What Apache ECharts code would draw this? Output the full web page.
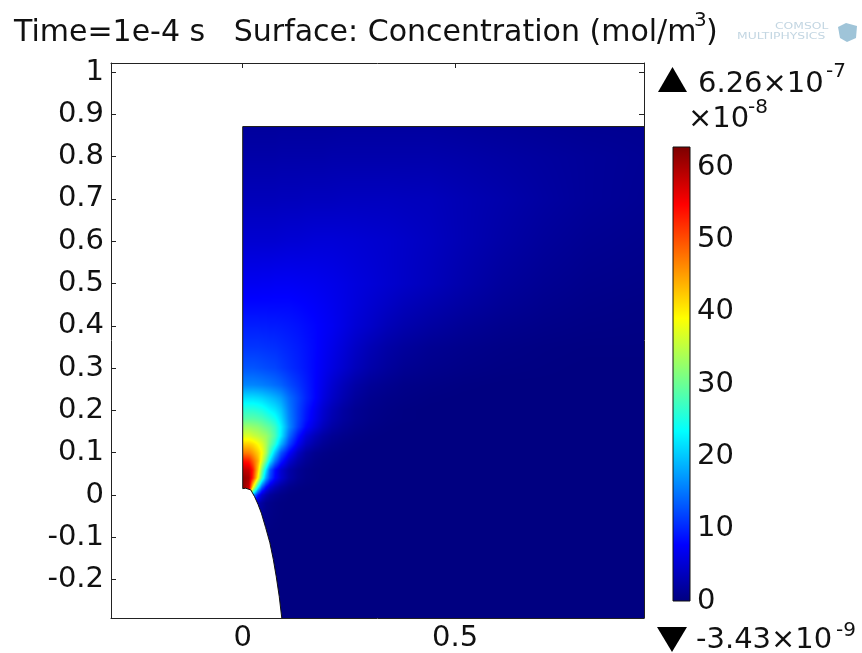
<!DOCTYPE html>
<html><head><meta charset="utf-8">
<style>html,body{margin:0;padding:0;background:#fff}#c{width:862px;height:653px}</style>
<script src="https://cdn.jsdelivr.net/npm/echarts@6/dist/echarts.min.js"></script>
</head><body><div id="c"></div>
<script>
// Tick labels
const xTicks = [0, 0.5];
const yTicks = [-0.2, -0.1, 0, 0.1, 0.2, 0.3, 0.4, 0.5, 0.6, 0.7, 0.8, 0.9, 1];
const barTicks = [0, 10, 20, 30, 40, 50, 60];
const readingX = [0,.015,.025,.035,.045,.055,.065,.075,.09,.11,.13,.15,.17,.19,.21,.235,.265,.30,.34,.38,.44,.52,.61,.71,.81,.945];
const readingY = [.871,.80,.70,.60,.50,.45,.40,.35,.30,.26,.23,.20,.18,.16,.14,.12,.10,.08,.06,.04,.02,.01,0,-.02,-.1,-.291];
// Concentration in units of 1e-8 mol/m3, one line per readingY, top to bottom
const concentration = [
[1.8,1.8,1.8,1.8,1.8,1.8,1.8,1.8,1.9,1.9,1.9,1.9,1.9,1.9,1.9,2,2,2,2,2,2,1.8,1.6,1.4,1.2,1.1],
[2.5,2.5,2.5,2.5,2.5,2.5,2.5,2.5,2.6,2.6,2.6,2.6,2.6,2.6,2.7,2.7,2.7,2.7,2.7,2.7,2.7,2.5,2.2,1.9,1.6,1.3],
[3.6,3.6,3.6,3.6,3.6,3.6,3.6,3.6,3.7,3.7,3.7,3.8,3.8,3.8,3.8,3.9,3.9,3.9,3.9,3.8,3.7,3.2,2.7,2.1,1.6,1.2],
[5,5,5,5,5,5,5,5,5.1,5.2,5.2,5.3,5.4,5.4,5.4,5.3,5.2,5,4.8,4.5,4,3.2,2.4,1.7,1.2,.9],
[7,7,7,7,7.1,7.1,7.1,7.2,7.2,7.2,7.1,7,6.9,6.7,6.5,6.2,5.8,5.4,4.9,4.4,3.7,2.7,1.8,1.2,.8,.6],
[8.2,8.2,8.2,8.2,8.2,8.2,8.2,8.2,8.2,8.2,8,7.8,7.5,7.2,6.8,6.3,5.7,5,4.3,3.6,2.9,2.1,1.4,.9,.6,.4],
[9.6,9.6,9.6,9.6,9.5,9.5,9.4,9.4,9.3,9.1,8.8,8.4,8,7.5,7,6.2,5.3,4.5,3.5,2.8,2.1,1.4,.9,.6,.4,.3],
[11,11,11,11,10.9,10.8,10.7,10.6,10.3,9.9,9.4,8.8,8.1,7.3,6.5,5.5,4.4,3.3,2.4,1.8,1.2,.8,.5,.3,.2,.2],
[13,13,13,12.8,12.6,12.4,12.2,12,11.4,10.6,9.8,9,8,7,6,4.9,3.7,2.6,1.8,1.2,.8,.5,.3,.2,.1,.1],
[16,16,16,15.8,15.6,15.3,15,14.5,13.8,12.4,11,9.6,8,6.5,5,3.6,2.4,1.5,1,.6,.4,.2,.1,.1,.1,.1],
[21.5,21.5,21.5,21.2,20.8,20.2,19.6,18.8,17.5,14.6,12.2,10,8,6,4.4,3,1.8,1,.6,.4,.2,.1,.1,.1,.1,.1],
[26,26,26,25.5,25,24,23,22,20,15.5,12,9.3,7,5,3.4,2.1,1.2,.7,.4,.2,.1,.1,.1,.1,.1,.1],
[29,29,29,28.5,28,27,26,24.5,21.5,16,12,9,6.6,4.6,3,1.9,1.1,.6,.3,.2,.1,.1,.1,.1,.1,.1],
[33,33,32.5,32,31,30,29,27,23,16.5,11.5,8,5.6,3.7,2.3,1.4,.8,.4,.2,.1,.1,.1,.1,.1,.1,.1],
[37,37,36,35,34,33,31,28,22.5,14.5,9,5.5,3.5,2.2,1.3,.8,.4,.2,.1,.1,.1,.1,.1,.1,.1,.1],
[42,42,41,39,37,34,30,26,19,12,7,4,2.4,1.4,.8,.4,.2,.1,.1,.1,.1,.1,.1,.1,.1,.1],
[47.5,47,45,42,39,34,27,20,13,8,4,2,1,.6,.3,.2,.1,.1,.1,.1,.1,.1,.1,.1,.1,.1],
[54,53,49,44,37,30,22,15,9.5,5,2.5,1.3,.6,.3,.2,.1,.1,.1,.1,.1,.1,.1,.1,.1,.1,.1],
[59,58,53,42,31,22,13.5,8.5,5,2.5,1.2,.6,.3,.2,.1,.1,.1,.1,.1,.1,.1,.1,.1,.1,.1,.1],
[61.5,60,52,39,27,18,12,8,5,2.4,1.1,.5,.3,.1,.1,.1,.1,.1,.1,.1,.1,.1,.1,.1,.1,.1],
[62,58,40,24,14,8.5,5.5,3.5,2,.9,.4,.2,.1,.1,.1,.1,.1,.1,.1,.1,.1,.1,.1,.1,.1,.1],
[62,55,30,16,9,5.5,3.4,2.2,1.2,.5,.2,.1,.1,.1,.1,.1,.1,.1,.1,.1,.1,.1,.1,.1,.1,.1],
[50,38,18,9,5,3,1.8,1.1,.6,.2,.1,.1,.1,.1,.1,.1,.1,.1,.1,.1,.1,.1,.1,.1,.1,.1],
[4,4,4,3,2,1,.7,.4,.2,.1,.1,.1,.1,.1,.1,.1,.1,.1,.1,.1,.1,.1,.1,.1,.1,.1],
[.5,.5,.4,.3,.2,.2,.1,.1,.1,.1,.1,.1,.1,.1,.1,.1,.1,.1,.1,.1,.1,.1,.1,.1,.1,.1],
[.1,.1,.1,.1,.1,.1,.1,.1,.1,.1,.1,.1,.1,.1,.1,.1,.1,.1,.1,.1,.1,.1,.1,.1,.1,.1]
];
// Boundary of the computational domain
const boundaryX = [0,0,0.007,0.019,0.028,0.036,0.044,0.054,0.064,0.072,0.079,0.086,0.092];
const boundaryY = [0.871,0.015,0.016,0.012,-0.004,-0.022,-0.043,-0.077,-0.113,-0.152,-0.193,-0.24,-0.291];
const topEdgeX = [0, 0.945];
const topEdgeY = [0.871, 0.871];
// Colour bar levels
const barLevels = [0, 7.83, 23.5, 39.1, 54.8, 62.6];
const barMax = 62.8;
const scaleMax = 62.6;
const jetColors = [[0,0,127],[0,0,255],[0,255,255],[255,255,0],[255,0,0],[127,0,0]];

function jetRgb(v){
  const t = Math.max(0, Math.min(1, v / scaleMax));
  const k = [0, .125, .375, .625, .875, 1];
  let i = 0; while (i < 4 && t > k[i+1]) i++;
  const f = (t - k[i]) / (k[i+1] - k[i]);
  const a = jetColors[i], b = jetColors[i+1];
  return [0,1,2].map(n => Math.round(a[n] + (b[n]-a[n]) * f));
}
const jet = v => 'rgb(' + jetRgb(v).join(',') + ')';
const FONT = '"DejaVu Sans"';
const INK = '#111';
function txt(text, x, y, size, color, scaleX){
  return {type:'text', x, y, scaleX:scaleX||1, silent:true, z:10, style:{text, fontFamily:FONT, fontSize:size, fill:color||INK, textAlign:'left', textVerticalAlign:'middle'}};
}
function tri(pts){ return {type:'polygon', silent:true, z:10, shape:{points:pts}, style:{fill:'#000'}}; }

// One mark per cell between four readings, shaded from its corner values.
const cellData = [];
for (let r = 0; r < readingY.length - 1; r++)
  for (let c = 0; c < readingX.length - 1; c++)
    cellData.push([readingX[c], readingY[r], readingX[c+1], readingY[r+1],
      concentration[r][c], concentration[r][c+1], concentration[r+1][c], concentration[r+1][c+1]]);
const maskData = boundaryX.map((x, i) => [x, boundaryY[i]]);

function shadedCell(w, h, tl, tr, bl, br){
  const cv = document.createElement('canvas'); cv.width = w; cv.height = h;
  const g = cv.getContext('2d'), im = g.createImageData(w, h);
  for (let j = 0; j < h; j++) for (let i = 0; i < w; i++){
    const u = (i + .5) / w, v = (j + .5) / h;
    const val = (tl*(1-u) + tr*u)*(1-v) + (bl*(1-u) + br*u)*v;
    const rgb = jetRgb(val), o = (j*w + i)*4;
    im.data[o] = rgb[0]; im.data[o+1] = rgb[1]; im.data[o+2] = rgb[2]; im.data[o+3] = 255;
  }
  g.putImageData(im, 0, 0);
  return cv;
}

const chart = echarts.init(document.getElementById('c'));
const plotAxisBase = {scale:true, z:1, splitLine:{show:false},
  axisLine:{show:true, onZero:false, lineStyle:{color:'#222', width:1}},
  axisTick:{show:true, inside:true, length:5, lineStyle:{color:'#222'}}};
const labelBase = {fontFamily:FONT, fontSize:29, color:INK, formatter:v=>String(v)};
chart.setOption({
  animation:false,
  backgroundColor:'#fff',
  grid:[{left:111, top:63, width:533, height:555, outerBoundsMode:'none'},
        {left:673, top:147, width:17, height:454, outerBoundsMode:'none'}],
  xAxis:[
    {...plotAxisBase, type:'value', gridIndex:0, position:'bottom', min:-0.31, max:0.9446,
      axisTick:{...plotAxisBase.axisTick, customValues:xTicks},
      axisLabel:{...labelBase, customValues:xTicks, margin:6}},
    {...plotAxisBase, type:'value', gridIndex:0, position:'top', min:-0.31, max:0.9446,
      axisTick:{...plotAxisBase.axisTick, customValues:xTicks}, axisLabel:{show:false}},
    {type:'value', gridIndex:1, min:0, max:1, show:false}
  ],
  yAxis:[
    {...plotAxisBase, type:'value', gridIndex:0, position:'left', min:-0.2908, max:1.0213,
      axisTick:{...plotAxisBase.axisTick, customValues:yTicks},
      axisLabel:{...labelBase, customValues:yTicks, margin:7}},
    {...plotAxisBase, type:'value', gridIndex:0, position:'right', min:-0.2908, max:1.0213,
      axisTick:{...plotAxisBase.axisTick, customValues:yTicks}, axisLabel:{show:false}},
    {type:'value', gridIndex:1, position:'right', min:0, max:barMax,
      axisLine:{show:false}, axisTick:{show:false}, splitLine:{show:false},
      axisLabel:{...labelBase, customValues:barTicks, margin:7}}
  ],
  series:[
    {type:'custom', name:'Concentration', xAxisIndex:0, yAxisIndex:0, silent:true, z:2,
      data:cellData,
      encode:{x:[0,2], y:[1,3]},
      renderItem(params, api){
        const a = api.coord([api.value(0), api.value(1)]);
        const b = api.coord([api.value(2), api.value(3)]);
        const x0 = Math.round(a[0]), y0 = Math.round(a[1]);
        const x1 = Math.round(b[0]), y1 = Math.round(b[1]);
        const w = x1 - x0, h = y1 - y0;
        if (w <= 0 || h <= 0) return null;
        return {type:'image', style:{image:shadedCell(w, h, api.value(4), api.value(5), api.value(6), api.value(7)), x:x0, y:y0, width:w, height:h}};
      }},
    {type:'custom', name:'Excluded region', xAxisIndex:0, yAxisIndex:0, silent:true, z:3,
      data:[0],
      renderItem(params, api){
        const pts = maskData.slice(1).map(p => api.coord(p));
        const last = pts[pts.length-1];
        const top = api.coord(maskData[1]);
        pts.push([top[0]-2, last[1]], [top[0]-2, top[1]]);
        return {type:'polygon', shape:{points:pts}, style:{fill:'#fff'}};
      }},
    {type:'line', name:'Boundary', xAxisIndex:0, yAxisIndex:0, data:maskData, symbol:'none', silent:true, z:4,
      lineStyle:{color:'#111', width:1}},
    {type:'line', name:'Top edge', xAxisIndex:0, yAxisIndex:0, data:topEdgeX.map((x,i)=>[x,topEdgeY[i]]), symbol:'none', silent:true, z:4,
      lineStyle:{color:'#111', width:1}},
    {type:'custom', name:'Colour bar', xAxisIndex:2, yAxisIndex:2, silent:true, z:2,
      data:[0],
      renderItem(params, api){
        const a = api.coord([0, barMax]), b = api.coord([1, 0]);
        const stops = barLevels.map(v => ({offset:1 - v/barMax, color:jet(v)})).reverse();
        return {type:'rect', shape:{x:a[0], y:a[1], width:b[0]-a[0], height:b[1]-a[1]},
          style:{fill:new echarts.graphic.LinearGradient(0,0,0,1,stops), stroke:'#111', lineWidth:1}};
      }}
  ],
  graphic:[
    txt('Time=1e-4 s   Surface: Concentration (mol/m', 14, 33, 30),
    txt('3', 694, 21, 20),
    txt(')', 706, 33, 30),
    tri([[658,92],[687,92],[672.5,67]]),
    txt('6.26×10', 698, 84, 29),
    txt('-7', 826, 72, 20),
    txt('×10', 688, 119, 29),
    txt('-8', 748, 108, 20),
    tri([[657,627],[687,627],[672,652]]),
    txt('-3.43×10', 696, 640, 29),
    txt('-9', 836, 631, 20),
    txt('COMSOL', 775, 27, 9.5, '#c3d6e2', 1.3),
    txt('MULTIPHYSICS', 737, 37, 9.5, '#c3d6e2', 1.3),
    {type:'polygon', silent:true, z:10, shape:{points:[[838,27],[846,23],[857,26],[856,38],[847,42],[840,38]]}, style:{fill:'#9fc4d8'}}
  ]
});
</script></body></html>
